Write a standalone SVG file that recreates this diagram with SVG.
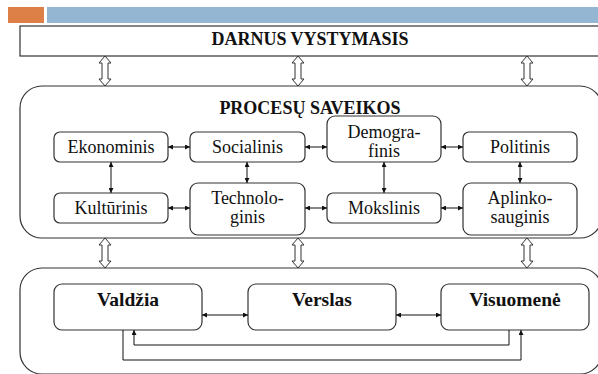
<svg xmlns="http://www.w3.org/2000/svg" width="598" height="374" viewBox="0 0 598 374">
<style>
.box{fill:#fff;stroke:#333;stroke-width:1.2}
.frame{fill:none;stroke:#333;stroke-width:1.2}
.t{font-family:"Liberation Serif","Times New Roman",serif;font-size:18px;fill:#111;text-anchor:middle}
.tb{font-family:"Liberation Serif","Times New Roman",serif;font-size:19.5px;font-weight:bold;fill:#111;text-anchor:middle}
.title{font-family:"Liberation Serif","Times New Roman",serif;font-size:18px;font-weight:bold;fill:#111;text-anchor:middle}
.c{fill:none;stroke:#111;stroke-width:1;marker-start:url(#a);marker-end:url(#a)}
.c1{fill:none;stroke:#111;stroke-width:1;marker-end:url(#a)}
.h{fill:#fff;stroke:#333;stroke-width:1}
</style>
<defs>
<marker id="a" viewBox="0 0 6 6" refX="6" refY="3" markerWidth="6" markerHeight="5" markerUnits="userSpaceOnUse" orient="auto-start-reverse">
<path d="M0,0 L6,3 L0,6 Z" fill="#111"/>
</marker>
<path id="dbl" d="M0,0 L6,7 L3,7 L3,23 L6,23 L0,30 L-6,23 L-3,23 L-3,7 L-6,7 Z"/>
</defs>
<rect width="598" height="374" fill="#fff"/>
<rect x="8" y="7" width="36" height="16" fill="#DD8047"/>
<rect x="47" y="7" width="551" height="16" fill="#94B6D2"/>

<g id="darnus">
<rect class="box" x="20" y="26" width="590" height="30"/>
<text class="title" x="310" y="45">DARNUS VYSTYMASIS</text>
</g>

<g id="procesu-saveikos">
<rect class="frame" x="20" y="86" width="582" height="152" rx="22"/>
<text class="title" x="310" y="114">PROCESŲ SAVEIKOS</text>
</g>

<g id="ekonominis"><rect class="box" x="54" y="132" width="114" height="30" rx="6"/><text class="t" x="111" y="153">Ekonominis</text></g>
<g id="socialinis"><rect class="box" x="190" y="132" width="115" height="30" rx="6"/><text class="t" x="247.5" y="153">Socialinis</text></g>
<g id="demografinis"><rect class="box" x="327" y="116" width="114" height="46" rx="8"/><text class="t" x="384" y="138">Demogra-</text><text class="t" x="384" y="157">finis</text></g>
<g id="politinis"><rect class="box" x="463" y="132" width="114" height="30" rx="6"/><text class="t" x="520" y="153">Politinis</text></g>
<g id="kulturinis"><rect class="box" x="54" y="193" width="114" height="30" rx="6"/><text class="t" x="111" y="214">Kultūrinis</text></g>
<g id="technologinis"><rect class="box" x="190" y="183" width="115" height="52" rx="8"/><text class="t" x="247.5" y="204">Technolo-</text><text class="t" x="247.5" y="223">ginis</text></g>
<g id="mokslinis"><rect class="box" x="327" y="193" width="114" height="30" rx="6"/><text class="t" x="384" y="214">Mokslinis</text></g>
<g id="aplinkosauginis"><rect class="box" x="463" y="183" width="114" height="52" rx="8"/><text class="t" x="520" y="204">Aplinko-</text><text class="t" x="520" y="223">sauginis</text></g>

<g id="subjektai">
<rect class="frame" x="20" y="268" width="582" height="106" rx="22"/>
</g>
<g id="valdzia"><rect class="box" x="54" y="284" width="148" height="46" rx="8"/><text class="tb" x="128" y="306">Valdžia</text></g>
<g id="verslas"><rect class="box" x="248" y="284" width="148" height="46" rx="8"/><text class="tb" x="322" y="306">Verslas</text></g>
<g id="visuomene"><rect class="box" x="441" y="284" width="148" height="46" rx="8"/><text class="tb" x="515" y="306">Visuomenė</text></g>

<g id="connectors">
<use href="#dbl" class="h" x="105" y="56"/>
<use href="#dbl" class="h" x="298" y="56"/>
<use href="#dbl" class="h" x="527" y="56"/>
<use href="#dbl" class="h" x="105" y="238"/>
<use href="#dbl" class="h" x="298" y="238"/>
<use href="#dbl" class="h" x="527" y="238"/>
<line class="c" x1="168" y1="147" x2="190" y2="147"/>
<line class="c" x1="305" y1="147" x2="327" y2="147"/>
<line class="c" x1="441" y1="147" x2="463" y2="147"/>
<line class="c" x1="168" y1="208" x2="190" y2="208"/>
<line class="c" x1="305" y1="208" x2="327" y2="208"/>
<line class="c" x1="441" y1="208" x2="463" y2="208"/>
<line class="c" x1="111" y1="162" x2="111" y2="193"/>
<line class="c" x1="247" y1="162" x2="247" y2="183"/>
<line class="c" x1="384" y1="162" x2="384" y2="193"/>
<line class="c" x1="520" y1="162" x2="520" y2="183"/>
<line class="c" x1="202" y1="315" x2="248" y2="315"/>
<line class="c" x1="396" y1="315" x2="441" y2="315"/>
<polyline class="c1" points="123,330 123,360 521,360 521,330"/>
<polyline class="c1" points="509,330 509,345 134,345 134,330"/>
</g>
</svg>
